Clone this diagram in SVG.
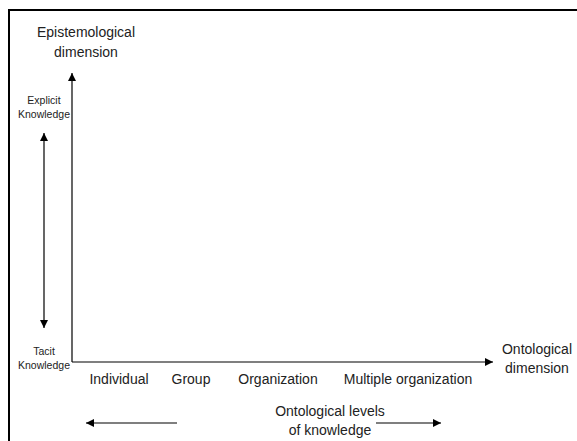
<svg xmlns="http://www.w3.org/2000/svg" width="577" height="441" viewBox="0 0 577 441">
<style>
text{font-family:"Liberation Sans",Arial,sans-serif;fill:#222;text-anchor:middle}
.l{font-size:14px}
.s{font-size:10.5px}
.ln{stroke:#000;stroke-width:1.2;fill:none}
</style>
<defs>
<marker id="ah" viewBox="0 0 10 10" refX="10" refY="5" markerWidth="8" markerHeight="8" markerUnits="userSpaceOnUse" orient="auto-start-reverse"><path d="M0,0L10,5L0,10z" fill="#000"/></marker>
</defs>
<rect width="577" height="441" fill="#fff"/>
<g id="frame"><path d="M9,441V10H577" stroke="#000" stroke-width="2" fill="none"/></g>
<g id="connectors">
<path class="ln" d="M72,362V73" marker-end="url(#ah)"/>
<path class="ln" d="M72,362H493" marker-end="url(#ah)"/>
<path class="ln" d="M44,133V328" marker-start="url(#ah)" marker-end="url(#ah)"/>
<path class="ln" d="M177,423H86" marker-end="url(#ah)"/>
<path class="ln" d="M376,423H441" marker-end="url(#ah)"/>
</g>
<g id="epistemological"><text class="l" x="86" y="37">Epistemological</text><text class="l" x="86" y="57">dimension</text></g>
<g id="explicit"><text class="s" x="44" y="104">Explicit</text><text class="s" x="44" y="118">Knowledge</text></g>
<g id="tacit"><text class="s" x="44" y="355">Tacit</text><text class="s" x="44" y="369">Knowledge</text></g>
<g id="individual"><text class="l" x="119" y="384">Individual</text></g>
<g id="group"><text class="l" x="191" y="384">Group</text></g>
<g id="organization"><text class="l" x="278" y="384">Organization</text></g>
<g id="multiple"><text class="l" x="408" y="384">Multiple organization</text></g>
<g id="ontological"><text class="l" x="537" y="354">Ontological</text><text class="l" x="537" y="373">dimension</text></g>
<g id="levels"><text class="l" x="330" y="416">Ontological levels</text><text class="l" x="330" y="435">of knowledge</text></g>
</svg>
